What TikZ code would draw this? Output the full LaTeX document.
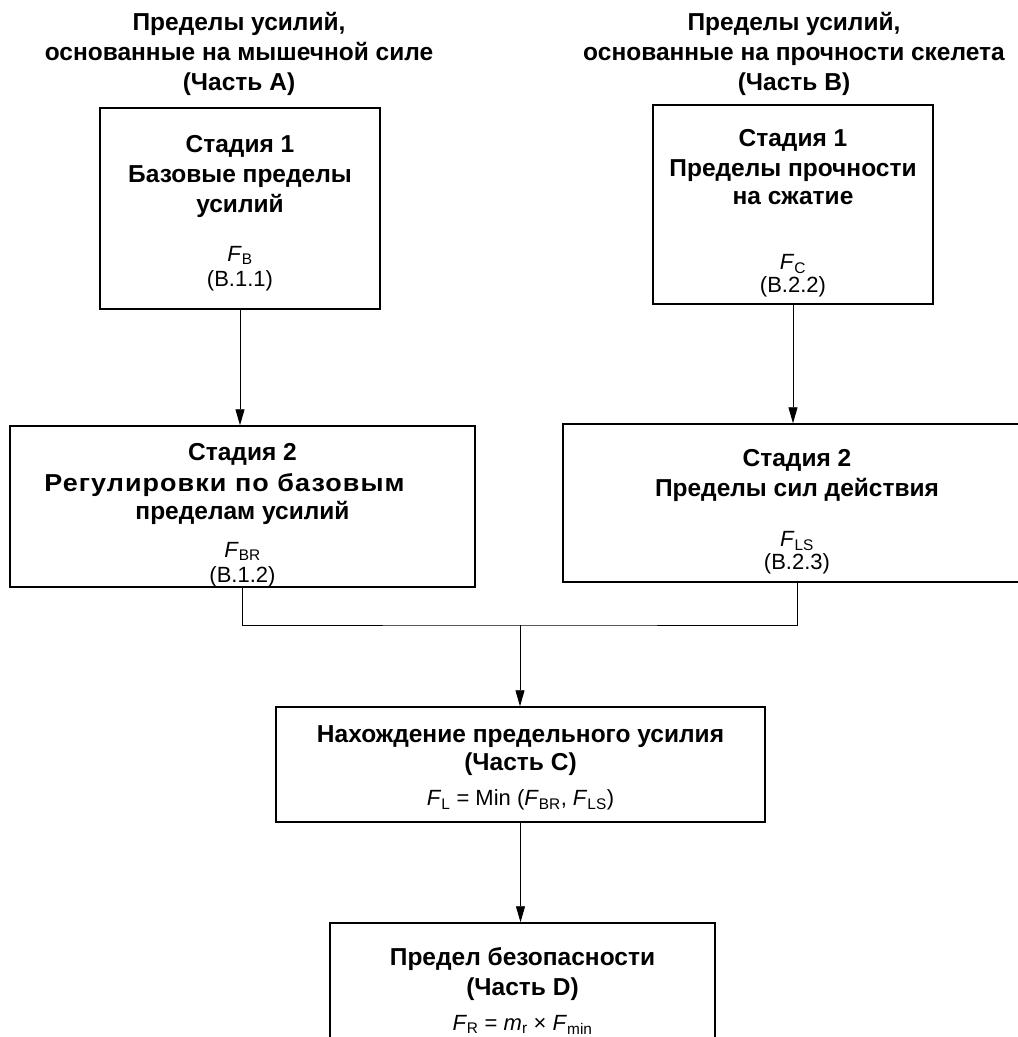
\documentclass[tikz,border=0pt]{standalone}
\usepackage{fontspec}
\setmainfont{Liberation Sans}
\usetikzlibrary{arrows.meta}

\newcommand{\fsym}[2]{\textit{#1}\textsubscript{#2}} % обозначение силы
\newcommand{\frm}[1]{{\mdseries\fontsize{22}{26}\selectfont #1}} % строка с формулой
\newcommand{\tp}[1]{\rule{0pt}{#1}} % подпорка первой строки

\begin{document}
\begin{tikzpicture}[x=1pt, y=-1pt,
  every node/.style={font=\fontsize{24.5}{30}\selectfont\bfseries, inner sep=0pt, align=center},
  stage/.style={draw, line width=1.5pt},
  flow/.style={line width=0.9pt, -{Triangle[length=16pt, width=9pt]}},
  link/.style={line width=0.9pt}]
  \useasboundingbox (0,0) rectangle (1018,1037); % размер рисунка

  % заголовки
  \node[anchor=north] (headA) at (239,12) {Пределы усилий,\\основанные на мышечной силе\\(Часть A)};
  \node[anchor=north] (headB) at (794,12) {Пределы усилий,\\основанные на прочности скелета\\(Часть B)};

  % стадии 1 и 2
  \node[stage, minimum width=280, minimum height=201] (stA1) at (240,208.5)
    {\tp{26pt}Стадия 1\\Базовые пределы\\усилий\\[19pt]\frm{\fsym{F}{B}}\\[-5pt]\frm{(B.1.1)}};
  \node[stage, minimum width=280, minimum height=199] (stB1) at (793,204.5)
    {\tp{35pt}Стадия 1\\Пределы прочности\\[-2pt]на сжатие\\[35pt]\frm{\fsym{F}{C}}\\[-7pt]\frm{(B.2.2)}};
  \node[stage, minimum width=465, minimum height=161] (stA2) at (242.5,506.5)
    {\tp{34pt}Стадия 2\\[1pt]\scalebox{1.1}[1]{\addfontfeature{LetterSpace=4}Регулировки по базовым}\rule{36pt}{0pt}\\[-2pt]пределам усилий\\[8pt]\frm{\fsym{F}{BR}}\\[-5pt]\frm{(B.1.2)}};
  \node[stage, minimum width=468, minimum height=158] (stB2) at (797,503)
    {\tp{35pt}Стадия 2\\Пределы сил действия\\[20pt]\frm{\fsym{F}{LS}}\\[-7pt]\frm{(B.2.3)}};

  % части C и D
  \node[stage, minimum width=489, minimum height=115] (limC) at (520.5,764.5)
    {\tp{24pt}Нахождение предельного усилия\\[-2pt](Часть C)\\[5pt]\frm{\fsym{F}{L} = Min (\fsym{F}{BR}, \fsym{F}{LS})}};
  \node[stage, minimum width=385, minimum height=136] (safD) at (522.5,991)
    {Предел безопасности\\(Часть D)\\[5pt]\frm{\fsym{F}{R} = \fsym{m}{r} × \fsym{F}{min}}};

  % связи
  \coordinate (join) at (520,625);
  \draw[flow] (stA1.south) -- (stA1.south |- stA2.north);
  \draw[flow] (stB1.south) -- (stB1.south |- stB2.north);
  \draw[link] (stA2.south) |- (join) -| (stB2.south);
  \draw[flow] (join) -- (join |- limC.north);
  \draw[flow] (limC.south) -- (limC.south |- safD.north);
\end{tikzpicture}
\end{document}
